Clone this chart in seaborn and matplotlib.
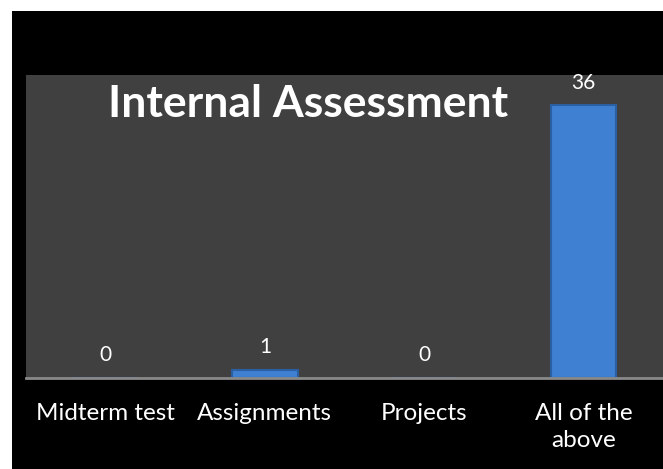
import matplotlib
matplotlib.use("Agg")
import matplotlib.pyplot as plt
import seaborn as sns
import pandas as pd
from matplotlib.patches import Rectangle

categories = ["Midterm test", "Assignments", "Projects", "All of the\nabove"]
responses = [0, 1, 0, 36]
title = "Internal Assessment"

W, H = 663, 469

sns.set_style("dark")
plt.rcParams['font.family'] = ['Lato', 'DejaVu Sans']

fig = plt.figure(figsize=(W / 100, H / 100), dpi=100, facecolor='white')
# black slide background, behind the axes
fig.patches.append(Rectangle((12 / W, 0), 1 - 12 / W, 1 - 11 / H,
                             transform=fig.transFigure, facecolor='black',
                             edgecolor='none', zorder=-10))

ax = fig.add_axes([26 / W, 1 - 377.5 / H, 1 - 26 / W, (377.5 - 75) / H])
ax.set_facecolor('#404040')

df = pd.DataFrame({"category": categories, "count": responses})
sns.barplot(data=df, x="category", y="count", ax=ax, color='#3f80d2',
            saturation=1, width=0.41, edgecolor='#2a5fa3', linewidth=1.5)

ax.set_ylim(0, 40)
ax.set_xlim(-0.5, 3.5)
ax.bar_label(ax.containers[0], labels=[str(v) for v in responses],
             padding=9, color='white', fontsize=15, clip_on=False)

ax.text(0.443, 0.905, title, transform=ax.transAxes, ha='center', va='center',
        color='white', fontsize=32, fontweight='bold')

ax.set_xlabel("")
ax.set_ylabel("")
ax.set_yticks([])
ax.tick_params(axis='x', length=0, pad=18, colors='white', labelsize=17.5)
for lbl in ax.get_xticklabels():
    lbl.set_linespacing(1.4)
ax.grid(False)
for side in ['top', 'right', 'left']:
    ax.spines[side].set_visible(False)
ax.spines['bottom'].set_visible(True)
ax.spines['bottom'].set_color('#8a8a8a')
ax.spines['bottom'].set_linewidth(2)

fig.savefig("out.png", dpi=100, facecolor='white')
